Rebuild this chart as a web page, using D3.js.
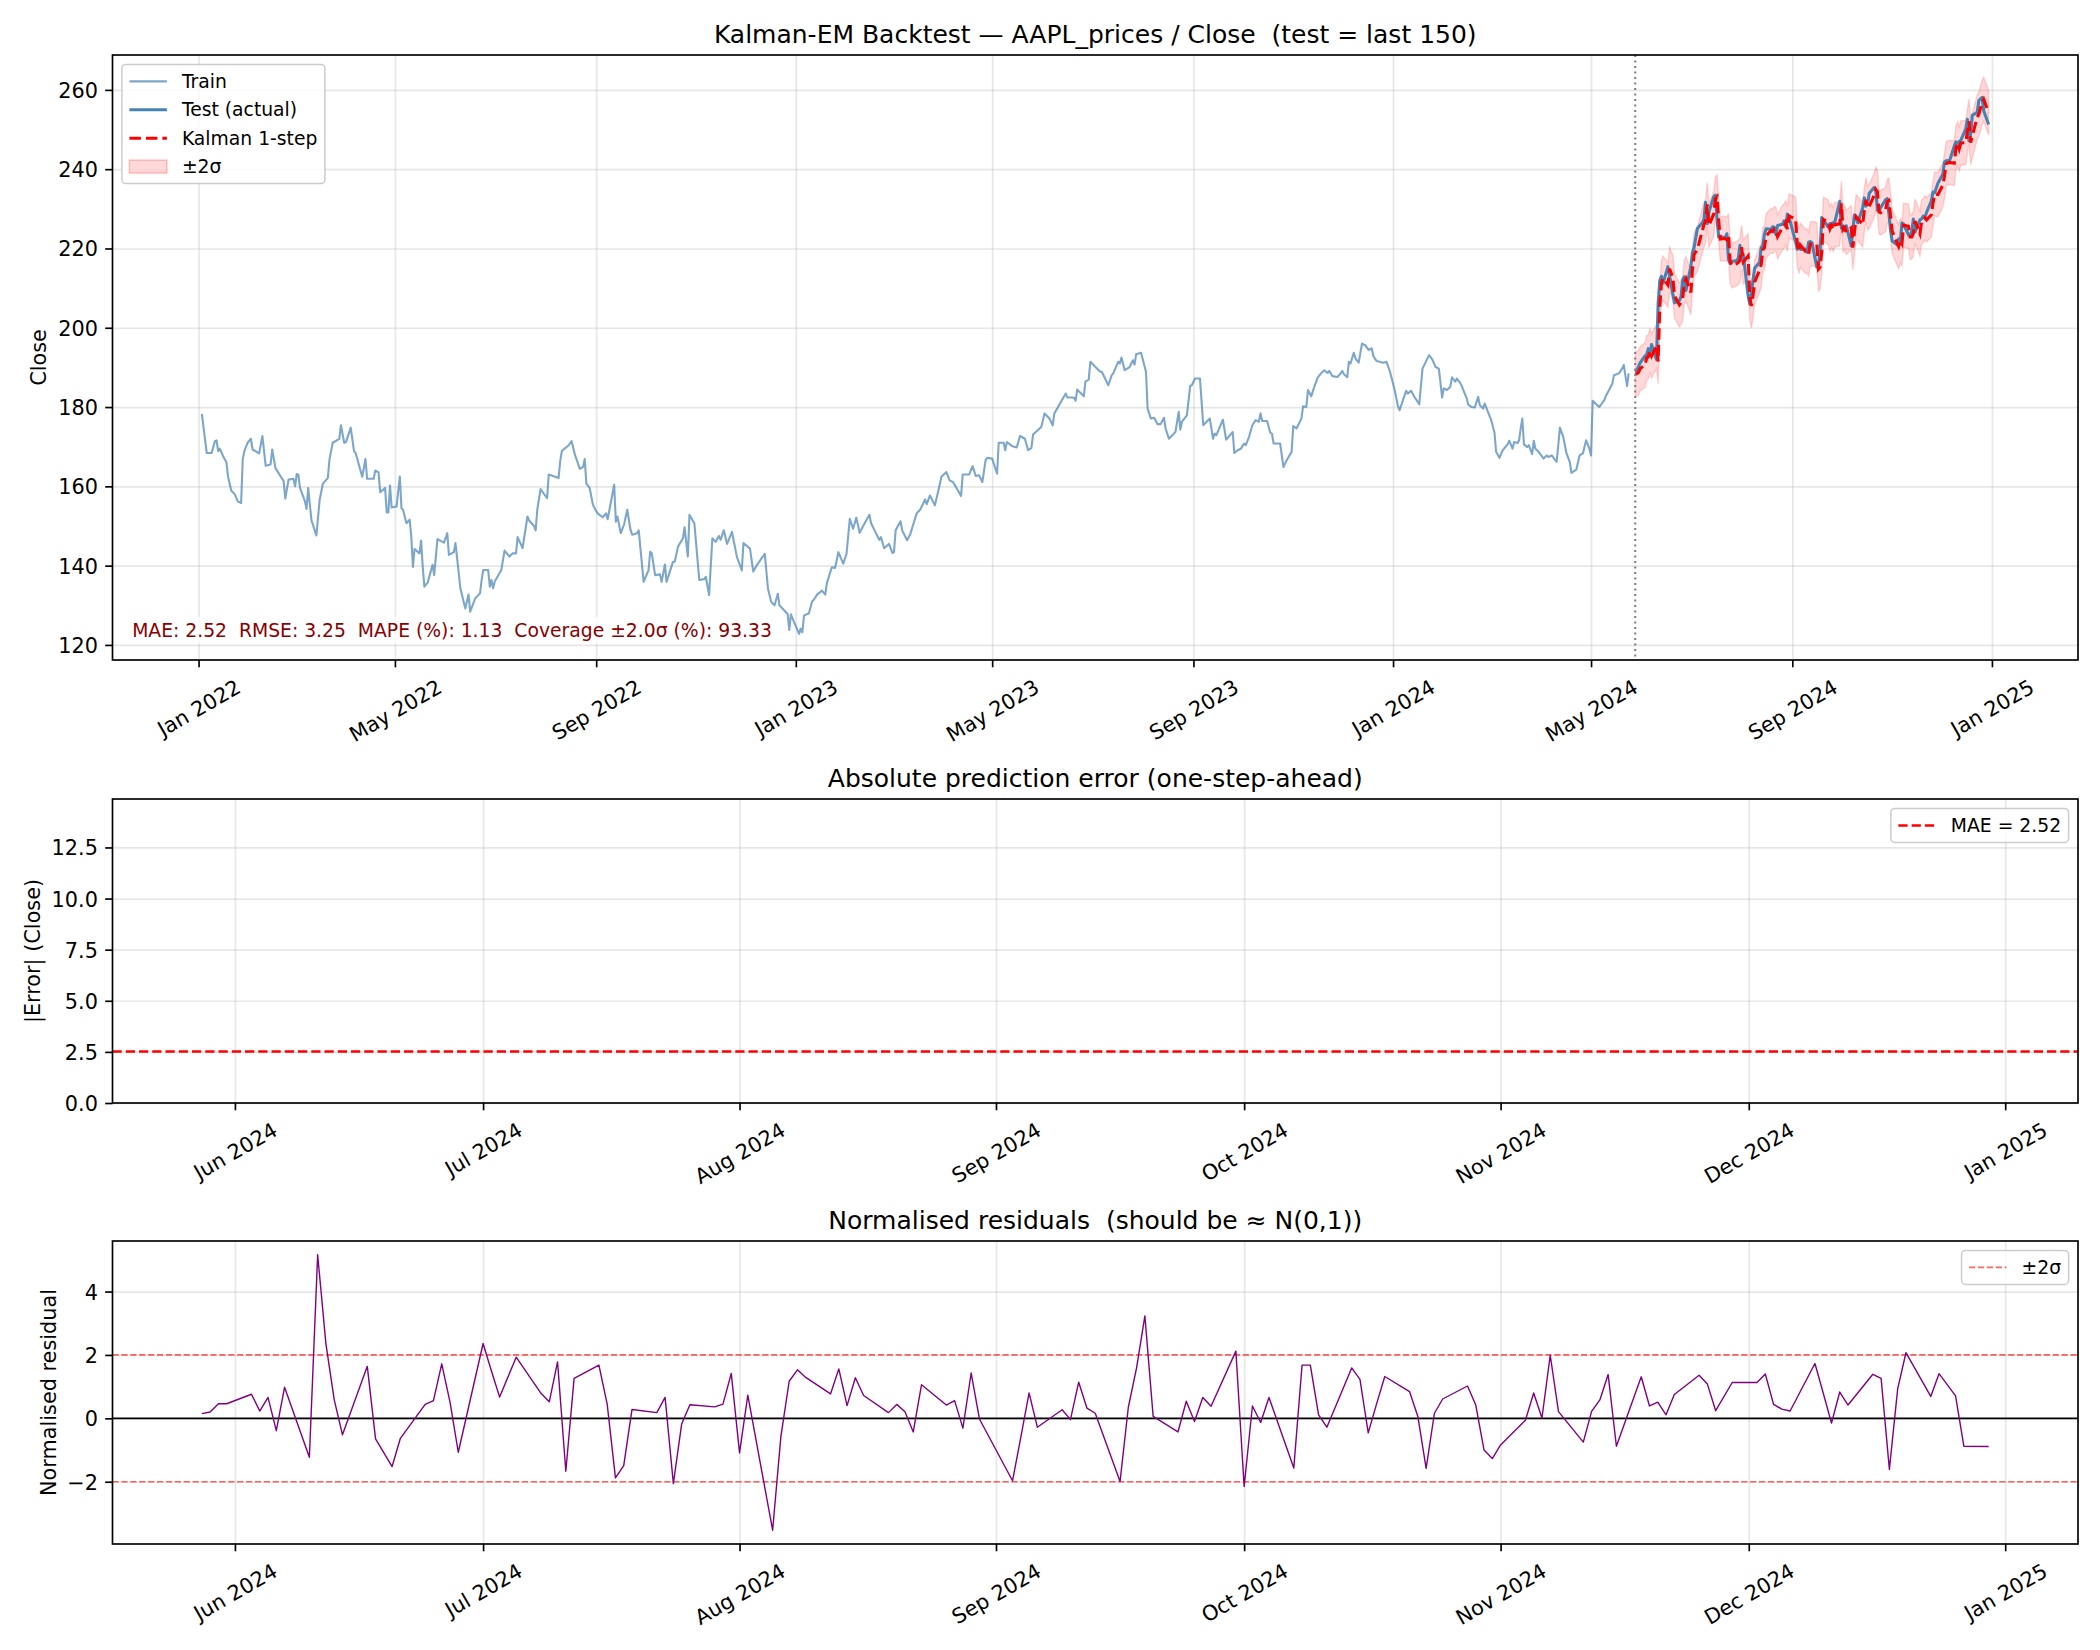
<!DOCTYPE html>
<html>
<head>
<meta charset="utf-8">
<script src="https://cdn.jsdelivr.net/npm/d3@7"></script>
<style>
  body { margin: 0; background: #fff; }
  svg text { font-family: "DejaVu Sans", sans-serif; white-space: pre; }
</style>
</head>
<body>
<svg id="chart" width="2100" height="1650"></svg>
<script>
// ---- data ----
// training closes: day offsets from 2022-01-01 and adjusted close
var trainDay = [
  2,5,8,10,11,12,13,15,17,18, 20,22,24,26,27,28,30,32,33,37, 39,41,44,45,47,52,53,55,58,59,
  60,61,62,65,66,67,69,72,74,76, 79,80,82,86,87,89,90,93,95,96, 100,102,103,107,108,110,111,114,115,116,
  117,118,121,123,124,125,127,129,130,131, 132,135,136,137,138,140,143,144,146,150, 152,153,156,157,160,163,165,166,169,172,
  173,174,177,178,179,180,181,185,187,190, 192,194,195,198,201,202,205,206,207,209, 213,214,220,221,222,226,228,230,233,235,
  236,237,239,241,242,244,247,249,250,254, 255,256,258,260,262,264,265,268,269,272, 275,276,277,279,282,283,285,286,290,291,
  293,296,297,299,300,303,306,309,310,312, 314,316,318,
  319,321,323,326,329,332,333,337,339,341, 346,348,350,352,354,355,360,361,362,364, 367,368,369,370,373,375,376,378,381,383,
  384,387,389,391,394,396,398,400,402,404, 407,408,410,411,416,417,419,422,424,425, 426,429,430,433,435,437,439,441,444,445,
  447,450,452,454,457,459,461,464,466,467, 471,473,475,477,479,481,482,485,486,488, 489,492,493,494,497,500,502,505,507,509,
  510,513,515,517,520,522,523,525,527,530, 531,535,536,537,541,542,544,545,551,552, 556,558,559,562,563,564,566,569,571,572,
  573,576,579,580,582,584,586,588,590,591, 593,597,599,600,601,604,606,607,609,612, 614,618,620,621,622,626,628,632,633,635,
  637,639,640,642,644,646,648,649,650,653, 655,656,657,659,661,663,665,668,669,671, 674,675,677,678,680,682,684,686,688,690,
  691,693,696,697,699,700,702,703,704,706, 707,709,711,713,715,717,718,720,724,726, 728,731,733,734,736,738,739,741,743,746,
  748,750,752,754,756,758,760,761,763,765, 766,768,769,771,772,774,775,776,778,780, 782,783,785,786,788,790,792,793,795,797,
  800,801,803,804,806,807,808,809,810,812, 813,815,816,817,819,822,824,825,827,829, 830,832,834,836,838,839,842,844,846,848,
  850,851,852,856,859,860,862,864,865,868, 870,871,873,874
];
var trainClose = [
  178.3,168.4,168.4,171.4,171.6,168.9,169.5,167.6,166.1,162.5, 158.9,158.1,156.2,155.8,166.8,168.9,171.0,172.0,169.3,168.3,
  172.7,165.2,165.5,169.3,164.6,161.3,156.9,161.7,161.9,160.0, 163.1,162.9,159.6,156.2,154.3,159.6,151.4,147.6,156.6,160.7,
  162.1,166.8,171.0,172.0,175.4,171.0,171.1,174.8,168.9,168.4, 162.4,166.9,161.9,161.9,164.0,163.5,158.5,159.6,153.4,153.4,
  160.2,154.7,154.9,162.5,154.5,154.1,150.7,151.6,147.3,139.7, 144.2,143.1,146.3,139.7,134.7,135.7,140.2,137.6,146.7,145.8,
  148.2,142.7,143.4,145.7,134.3,129.2,132.7,128.4,131.7,133.0, 136.4,138.9,138.9,134.7,136.4,134.3,136.0,138.9,143.8,142.3,
  143.1,143.1,147.2,144.4,152.4,151.4,150.0,148.9,154.1,159.3, 157.0,163.0,162.1,166.3,168.9,170.3,171.4,168.0,164.4,164.9,
  166.9,160.7,159.6,155.4,154.5,153.1,152.2,153.2,151.7,160.4, 151.1,152.4,148.2,150.3,154.1,149.0,147.8,148.2,148.9,135.9,
  138.9,143.5,143.1,137.6,137.8,135.9,140.3,135.9,141.0,141.0, 144.8,146.9,149.7,142.3,152.8,150.7,136.4,136.6,137.2,132.6,
  146.9,146.0,147.5,
  146.5,148.9,145.5,148.5,142.2,138.8,145.7,144.3,138.5,140.0, 143.0,134.2,130.8,130.0,132.9,130.0,127.8,123.8,127.7,125.7,
  122.8,124.1,123.2,127.4,128.0,131.0,131.4,132.7,133.7,132.7, 135.6,139.6,139.4,143.4,140.5,143.0,151.8,149.3,152.1,148.3,
  150.6,151.4,152.8,150.7,146.5,147.2,144.4,145.5,143.2,143.4, 148.9,151.2,148.9,146.4,148.0,150.7,153.3,154.1,156.7,155.5,
  157.7,155.2,158.7,162.4,163.6,161.5,161.1,159.0,157.6,163.0, 163.0,165.1,162.6,162.8,161.1,166.6,167.2,167.0,165.7,163.2,
  171.0,171.0,169.1,171.2,170.2,169.8,172.7,172.0,169.1,169.7, 173.1,174.2,175.0,178.4,177.1,175.4,178.4,179.8,181.3,183.4,
  182.4,182.4,181.6,184.4,182.7,186.4,186.9,191.4,188.9,188.9, 185.5,188.0,188.5,191.4,191.0,192.5,189.3,190.1,191.8,190.7,
  193.3,193.7,188.9,179.6,177.1,177.3,175.7,175.7,177.3,174.6, 172.0,173.7,178.8,174.3,176.3,177.9,185.3,185.5,187.2,187.2,
  175.4,177.1,172.0,173.3,172.9,176.8,171.8,173.7,168.4,169.1,
  169.5,170.8,170.4,172.5,175.4,176.7,176.3,178.4,176.5,176.5, 173.5,173.3,170.8,170.8,170.8,164.9,166.6,168.7,175.2,174.6,
  177.1,180.2,180.0,184.3,182.7,185.3,187.5,188.5,189.3,188.6, 189.1,187.8,187.6,188.0,189.1,188.3,187.5,191.4,191.0,193.7,
  192.3,191.2,196.0,195.6,194.4,194.8,192.8,191.6,191.2,191.4, 189.1,184.3,180.2,179.2,181.7,184.1,183.4,184.1,182.6,180.7,
  189.7,191.4,193.1,192.0,190.1,189.7,182.4,184.7,184.3,185.1, 187.5,186.4,187.2,186.1,185.3,183.2,182.2,180.6,180.0,179.9,
  182.6,180.5,179.6,180.9,178.8,176.7,173.5,168.7,167.2,169.1, 170.6,171.5,169.5,171.2,170.9,171.6,174.6,177.1,170.6,169.9,
  170.4,168.1,171.5,169.5,168.7,167.0,167.8,167.4,167.8,166.7, 166.2,174.8,172.5,168.3,166.2,163.4,164.2,167.8,168.3,171.6,
  169.5,167.8,181.6,180.0,181.7,182.7,184.3,185.9,188.0,188.5, 189.7,190.6,185.3,188.5
];

// test window: last 150 trading days
var testStart = "2024-05-28", testEnd = "2024-12-30";
var marketHolidays = ["2024-06-19", "2024-07-04", "2024-09-02", "2024-11-28", "2024-12-25"];
var testClose = [
  188.89,189.19,190.18,191.13,
  192.90,193.22,194.73,193.35,195.75,192.00,205.95,211.83,213.00,211.26,215.41,213.05,208.46,206.29,206.93,207.86,212.01,212.86,209.40,
  215.49,218.99,220.27,225.03,226.50,227.35,231.63,226.25,229.20,233.04,233.46,227.55,222.88,223.01,222.66,223.70,217.27,216.23,216.70,216.97,217.53,220.79,
  217.09,218.58,208.06,206.03,208.60,212.07,214.99,216.51,220.23,220.68,223.66,224.99,224.83,225.45,225.34,223.47,225.77,226.11,226.96,225.43,228.71,227.92,
  221.72,219.81,221.33,219.78,219.87,219.08,221.61,221.72,221.45,215.30,215.77,219.65,227.79,227.13,225.41,226.30,225.31,226.45,226.72,231.90,
  225.15,225.71,224.61,225.73,220.65,224.71,228.46,227.96,226.48,230.21,232.75,230.69,231.06,233.90,235.37,234.75,229.67,229.49,230.32,232.30,232.57,229.02,224.85,
  221.86,220.97,222.40,221.67,226.41,226.14,223.42,223.42,224.31,227.40,224.19,227.20,227.46,228.18,227.70,229.04,232.03,234.21,234.08,236.48,
  238.73,241.78,242.14,242.17,241.97,245.86,246.88,245.60,247.07,247.24,250.14,252.57,247.16,248.89,253.57,254.35,257.27,258.09,254.67,251.29
];
var kalmanPred = [
  188.4,188.4,188.7,189.7,
  190.6,192.4,192.7,194.2,192.9,195.3,191.5,205.5,211.3,212.5,210.8,214.9,212.6,208.0,205.8,206.4,207.4,211.5,212.4,
  208.9,215.0,218.5,219.8,224.5,226.0,226.9,231.1,225.8,228.7,232.5,233.0,227.1,222.4,222.5,222.2,223.2,216.8,215.7,216.2,216.5,217.0,
  220.3,216.6,218.1,207.6,205.5,208.1,211.6,214.5,216.0,219.7,220.2,223.2,224.5,224.3,225.0,224.8,223.0,225.3,225.6,226.5,224.9,228.2,
  227.4,221.2,219.3,220.8,219.3,219.4,218.6,221.1,221.2,221.0,214.8,215.3,219.2,227.3,226.6,224.9,225.8,224.8,226.0,226.2,
  231.4,224.7,225.2,224.1,225.2,220.2,224.2,228.0,227.5,226.0,229.7,232.3,230.2,230.6,233.4,234.9,234.3,229.2,229.0,229.8,231.8,232.1,228.5,
  224.4,221.4,220.5,221.9,221.2,225.9,225.6,222.9,222.9,223.8,226.9,223.7,226.7,227.0,227.7,227.2,228.5,231.5,233.7,233.6,
  236.0,238.2,241.3,241.6,241.7,241.5,245.4,246.4,245.1,246.6,246.7,249.6,252.1,246.7,248.4,253.1,253.9,256.8,257.6,254.2
];
var kalmanSigma = 2.8;   // steady-state one-step std
var residuals = [
  0.15,0.20,0.46,0.46,
  0.76,0.23,0.66,-0.39,0.98,-1.23,5.16,2.35,0.59,-0.52,1.64,-0.65,-1.52,-0.63,0.44,0.56,1.72,0.51,-1.07,
  2.36,1.50,0.67,1.93,0.79,0.52,1.78,-1.67,1.26,1.68,0.45,-1.88,-1.49,0.28,0.18,0.66,-2.06,-0.18,0.43,0.36,0.45,1.42,
  -1.09,0.73,-3.53,-0.57,1.17,1.53,1.29,0.77,1.56,0.40,1.28,0.72,0.18,0.44,0.21,-0.43,1.06,0.42,0.56,-0.31,1.43,-0.02,
  -1.97,-0.60,0.80,-0.28,0.27,-0.04,1.14,0.32,0.16,-1.99,0.35,1.60,3.23,0.06,-0.43,0.54,-0.10,0.66,0.38,2.12,
  -2.15,0.39,-0.13,0.66,-1.57,1.68,1.68,0.11,-0.28,1.59,1.23,-0.46,0.45,1.32,0.84,0.06,-1.58,0.16,0.61,1.02,0.42,-1.00,-1.27,
  -0.84,-0.06,0.80,0.01,1.99,0.21,-0.75,0.22,0.58,1.38,-0.88,1.31,0.39,0.51,0.11,0.75,1.36,1.08,0.24,1.13,
  1.13,1.40,0.44,0.29,0.23,1.73,0.80,-0.15,0.83,0.42,1.39,1.26,-1.61,0.93,2.07,0.69,1.41,0.71,-0.88,-0.89
];
var maeValue = 2.52;
var metricsText = "MAE: 2.52  RMSE: 3.25  MAPE (%): 1.13  Coverage \u00b12.0\u03c3 (%): 93.33";

var closeTicks = [120, 140, 160, 180, 200, 220, 240, 260];
var closeDomain = [116.2, 268.8];
var errorTicks = [0, 2.5, 5, 7.5, 10, 12.5];
var errorDomain = [0, 14.87];
var residTicks = [-2, 0, 2, 4];
var fullTickDates = ["2022-01-01","2022-05-01","2022-09-01","2023-01-01","2023-05-01","2023-09-01","2024-01-01","2024-05-01","2024-09-01","2025-01-01"];
var testTickDates = ["2024-06-01","2024-07-01","2024-08-01","2024-09-01","2024-10-01","2024-11-01","2024-12-01","2025-01-01"];

// ---- layout ----
var FONT = "DejaVu Sans";
var FS_TICK = 20.8, FS_TITLE = 25, FS_LEG = 18.75;
var TICK_LEN = 7.3, TICK_PAD = 7.3, LW = 1.67;
var L = 112.5, R = 2078;
var panels = [{top: 55, bottom: 660}, {top: 799, bottom: 1103}, {top: 1241, bottom: 1544}];

var parse = d3.utcParse("%Y-%m-%d");
var fmtDay = d3.utcFormat("%Y-%m-%d");
var day0 = Date.UTC(2022, 0, 1);
var trainDates = trainDay.map(function(d) { return new Date(day0 + d * 864e5); });

var testDates = [];
for (var t = parse(testStart); t <= parse(testEnd); t = d3.utcDay.offset(t, 1)) {
    var wd = t.getUTCDay();
    if (wd > 0 && wd < 6 && marketHolidays.indexOf(fmtDay(t)) < 0) testDates.push(t);
}

function padDomain(a, b, frac) {
    var s = b - a;
    return [a - s * frac, b + s * frac];
}

var svg = d3.select("#chart");
svg.append("rect").attr("width", 2100).attr("height", 1650).attr("fill", "#fff");

// x scales
var fullSpan = padDomain(+trainDates[0], +testDates[testDates.length - 1], 0.05);
var x1 = d3.scaleUtc().domain(fullSpan.map(function(v) { return new Date(v); })).range([L, R]);
var testSpan = padDomain(+testDates[0], +testDates[testDates.length - 1], 0.05);
var x2 = d3.scaleUtc().domain(testSpan.map(function(v) { return new Date(v); })).range([L, R]);

var y1 = d3.scaleLinear().domain(closeDomain).range([panels[0].bottom, panels[0].top]);
var y2 = d3.scaleLinear().domain(errorDomain).range([panels[1].bottom, panels[1].top]);
var y3 = d3.scaleLinear().domain(padDomain(d3.min(residuals), d3.max(residuals), 0.05)).range([panels[2].bottom, panels[2].top]);

function clipFor(id, p) {
    svg.append("clipPath").attr("id", id).append("rect")
        .attr("x", L).attr("y", p.top).attr("width", R - L).attr("height", p.bottom - p.top);
    return "url(#" + id + ")";
}

function grid(p, x, xTicks, y, yTicks) {
    var g = svg.append("g");
    g.append("g").attr("transform", "translate(0," + p.bottom + ")")
        .call(d3.axisBottom(x).tickValues(xTicks).tickSize(-(p.bottom - p.top)).tickFormat(""));
    g.append("g").attr("transform", "translate(" + L + ",0)")
        .call(d3.axisLeft(y).tickValues(yTicks).tickSize(-(R - L)).tickFormat(""));
    g.selectAll(".domain").remove();
    g.selectAll("line").attr("stroke", "#b0b0b0").attr("stroke-opacity", 0.3).attr("stroke-width", LW);
}

function axes(p, x, xTicks, y, yTicks, yFmt, yLabel, title) {
    // x axis with rotated labels
    var ax = svg.append("g").attr("transform", "translate(0," + p.bottom + ")")
        .call(d3.axisBottom(x).tickValues(xTicks).tickFormat(d3.utcFormat("%b %Y"))
            .tickSize(TICK_LEN).tickPadding(0).tickSizeOuter(0));
    ax.attr("font-family", FONT).attr("font-size", FS_TICK);
    ax.select(".domain").remove();
    ax.selectAll(".tick line").attr("stroke", "#000").attr("stroke-width", LW);
    ax.selectAll(".tick text").each(function() {
        var tx = d3.select(this);
        tx.attr("fill", "#000").attr("text-anchor", "middle").attr("dy", null)
            .attr("x", 0).attr("y", 0.346 * FS_TICK);
        var w = this.getComputedTextLength();
        var cy = TICK_LEN + TICK_PAD + (w * 0.5 + 1.164 * FS_TICK * 0.866) / 2;
        tx.attr("transform", "translate(0," + cy + ") rotate(-30)");
    });

    var ay = svg.append("g").attr("transform", "translate(" + L + ",0)")
        .call(d3.axisLeft(y).tickValues(yTicks).tickFormat(yFmt)
            .tickSize(TICK_LEN).tickPadding(TICK_PAD).tickSizeOuter(0));
    ay.attr("font-family", FONT).attr("font-size", FS_TICK);
    ay.select(".domain").remove();
    ay.selectAll(".tick line").attr("stroke", "#000").attr("stroke-width", LW);
    ay.selectAll(".tick text").attr("fill", "#000").attr("dy", "0.36em");
    var minX = 0;
    ay.selectAll(".tick text").each(function() {
        var b = this.getBBox();
        minX = Math.min(minX, b.x);
    });
    var lx = L + minX - 8.3 - 0.236 * FS_TICK;
    var cy = (p.top + p.bottom) / 2;
    svg.append("text").attr("transform", "translate(" + (lx + 1.5) + "," + cy + ") rotate(-90)")
        .attr("text-anchor", "middle").attr("font-size", FS_TICK).attr("fill", "#000").text(yLabel);

    // title sits on its baseline, 6pt above the axes
    svg.append("text").attr("x", (L + R) / 2).attr("y", p.top - 12.5)
        .attr("text-anchor", "middle").attr("font-size", FS_TITLE).attr("fill", "#000").text(title);
}

function frame(p) {
    svg.append("rect").attr("x", L).attr("y", p.top).attr("width", R - L).attr("height", p.bottom - p.top)
        .attr("fill", "none").attr("stroke", "#000").attr("stroke-width", LW);
}

function legend(p, items, loc) {
    var pad = 7.5, handleLen = 37.5, handleGap = 15, rowH = 19, rowGap = 9.4, edge = 9.4;
    var g = svg.append("g");
    var box = g.append("rect");
    var texts = items.map(function(it) {
        return g.append("text").attr("font-size", FS_LEG).attr("fill", "#000").text(it.label);
    });
    var tw = d3.max(texts, function(t) { return t.node().getComputedTextLength(); });
    var bw = pad + handleLen + handleGap + tw + pad;
    var bh = 2 * pad + items.length * rowH + (items.length - 1) * rowGap;
    var bx = loc === "left" ? L + edge : R - edge - bw;
    var by = p.top + edge;
    box.attr("x", bx).attr("y", by).attr("width", bw).attr("height", bh).attr("rx", 4)
        .attr("fill", "#fff").attr("fill-opacity", 0.8).attr("stroke", "#cccccc").attr("stroke-width", 1.5);
    items.forEach(function(it, i) {
        var cy = by + pad + i * (rowH + rowGap) + rowH / 2;
        var hx = bx + pad;
        if (it.kind === "rect") {
            g.append("rect").attr("x", hx).attr("y", cy - 6.5).attr("width", handleLen).attr("height", 13)
                .attr("fill", it.color).attr("fill-opacity", it.opacity)
                .attr("stroke", it.color).attr("stroke-opacity", it.opacity * 1.5).attr("stroke-width", 1.5);
        } else {
            g.append("line").attr("x1", hx).attr("x2", hx + handleLen).attr("y1", cy).attr("y2", cy)
                .attr("stroke", it.color).attr("stroke-opacity", it.opacity || 1)
                .attr("stroke-width", it.width).attr("stroke-dasharray", it.dash || null);
        }
        texts[i].attr("x", hx + handleLen + handleGap).attr("y", cy + 0.35 * FS_LEG);
    });
}

// ================= panel 1 : price backtest =================
var P1 = panels[0];
grid(P1, x1, fullTickDates.map(parse), y1, closeTicks);
var c1 = svg.append("g").attr("clip-path", clipFor("clip1", P1));

var bandData = testDates.map(function(d, i) { return {date: d, pred: kalmanPred[i]}; });
c1.append("path").datum(bandData)
    .attr("d", d3.area()
        .x(function(d) { return x1(d.date); })
        .y0(function(d) { return y1(d.pred - 2 * kalmanSigma); })
        .y1(function(d) { return y1(d.pred + 2 * kalmanSigma); }))
    .attr("fill", "#ff0000").attr("fill-opacity", 0.15)
    .attr("stroke", "#ff0000").attr("stroke-opacity", 0.15).attr("stroke-width", 1.5);

c1.append("path").datum(trainDates.map(function(d, i) { return [d, trainClose[i]]; }))
    .attr("d", d3.line().x(function(d) { return x1(d[0]); }).y(function(d) { return y1(d[1]); }))
    .attr("fill", "none").attr("stroke", "steelblue").attr("stroke-opacity", 0.7)
    .attr("stroke-width", 2.1).attr("stroke-linejoin", "round");

c1.append("path").datum(testDates.map(function(d, i) { return [d, testClose[i]]; }))
    .attr("d", d3.line().x(function(d) { return x1(d[0]); }).y(function(d) { return y1(d[1]); }))
    .attr("fill", "none").attr("stroke", "steelblue").attr("stroke-width", 3.1).attr("stroke-linejoin", "round");

c1.append("path").datum(bandData)
    .attr("d", d3.line().x(function(d) { return x1(d.date); }).y(function(d) { return y1(d.pred); }))
    .attr("fill", "none").attr("stroke", "#ff0000").attr("stroke-width", 3.1)
    .attr("stroke-dasharray", "11.5,5");

c1.append("line").attr("x1", x1(testDates[0])).attr("x2", x1(testDates[0]))
    .attr("y1", P1.top).attr("y2", P1.bottom)
    .attr("stroke", "#808080").attr("stroke-width", 2.1).attr("stroke-dasharray", "2.1,3.4");

axes(P1, x1, fullTickDates.map(parse), y1, closeTicks, d3.format("d"), "Close",
    "Kalman-EM Backtest \u2014 AAPL_prices / Close  (test = last 150)");
frame(P1);
legend(P1, [
    {label: "Train", kind: "line", color: "steelblue", opacity: 0.7, width: 2.1},
    {label: "Test (actual)", kind: "line", color: "steelblue", width: 3.1},
    {label: "Kalman 1-step", kind: "line", color: "#ff0000", width: 3.1, dash: "11.5,5"},
    {label: "\u00b12\u03c3", kind: "rect", color: "#ff0000", opacity: 0.15}
], "left");

// metrics box
var mt = svg.append("text").attr("x", L + 0.01 * (R - L)).attr("y", 637)
    .attr("font-size", FS_LEG).attr("fill", "#8b0000").text(metricsText);
var mb = mt.node().getBBox();
svg.insert("rect", function() { return mt.node(); })
    .attr("x", mb.x - 6).attr("y", mb.y - 3).attr("width", mb.width + 12).attr("height", mb.height + 6)
    .attr("rx", 4).attr("fill", "#fff").attr("fill-opacity", 0.7);

// ================= panel 2 : absolute error =================
var P2 = panels[1];
grid(P2, x2, testTickDates.map(parse), y2, errorTicks);
var c2 = svg.append("g").attr("clip-path", clipFor("clip2", P2));
c2.append("line").attr("x1", L).attr("x2", R).attr("y1", y2(maeValue)).attr("y2", y2(maeValue))
    .attr("stroke", "#ff0000").attr("stroke-width", 2.5).attr("stroke-dasharray", "9.25,4");
axes(P2, x2, testTickDates.map(parse), y2, errorTicks, d3.format(".1f"), "|Error| (Close)",
    "Absolute prediction error (one-step-ahead)");
frame(P2);
legend(P2, [{label: "MAE = " + maeValue.toFixed(2), kind: "line", color: "#ff0000", width: 2.5, dash: "9.25,4"}], "right");

// ================= panel 3 : normalised residuals =================
var P3 = panels[2];
grid(P3, x2, testTickDates.map(parse), y3, residTicks);
var c3 = svg.append("g").attr("clip-path", clipFor("clip3", P3));
[2, -2].forEach(function(v) {
    c3.append("line").attr("x1", L).attr("x2", R).attr("y1", y3(v)).attr("y2", y3(v))
        .attr("stroke", "#ff0000").attr("stroke-opacity", 0.6).attr("stroke-width", 1.7)
        .attr("stroke-dasharray", "6.2,2.7");
});
c3.append("line").attr("x1", L).attr("x2", R).attr("y1", y3(0)).attr("y2", y3(0))
    .attr("stroke", "#000").attr("stroke-width", LW);
c3.append("path").datum(testDates.map(function(d, i) { return [d, residuals[i]]; }))
    .attr("d", d3.line().x(function(d) { return x2(d[0]); }).y(function(d) { return y3(d[1]); }))
    .attr("fill", "none").attr("stroke", "purple").attr("stroke-width", 1.4).attr("stroke-linejoin", "round");
axes(P3, x2, testTickDates.map(parse), y3, residTicks, d3.format("d"), "Normalised residual",
    "Normalised residuals  (should be \u2248 N(0,1))");
frame(P3);
legend(P3, [{label: "\u00b12\u03c3", kind: "line", color: "#ff0000", opacity: 0.6, width: 1.7, dash: "6.2,2.7"}], "right");
</script>
</body>
</html>
